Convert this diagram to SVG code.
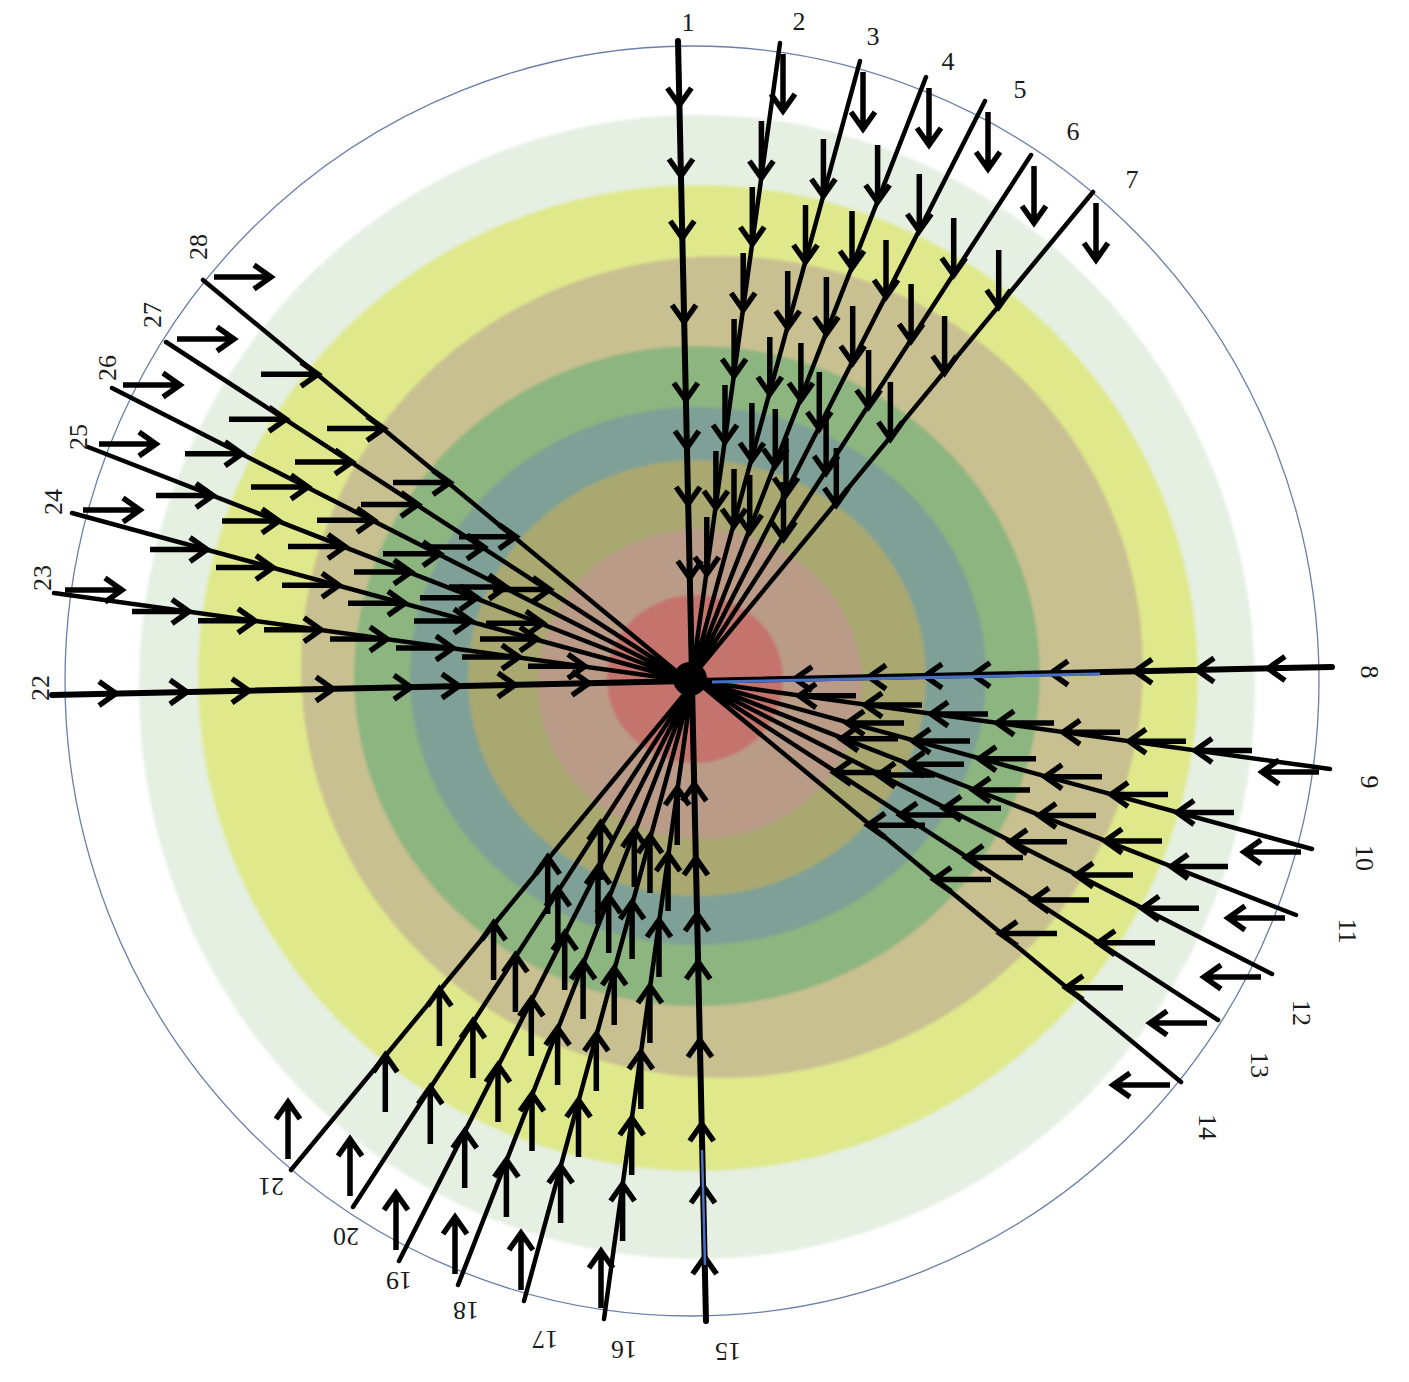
<svg xmlns="http://www.w3.org/2000/svg" width="1409" height="1382" viewBox="0 0 1409 1382">
<style>
.ln{stroke:#000;stroke-width:4.5;fill:none;stroke-linecap:round}
.ax{stroke:#000;stroke-width:6;fill:none;stroke-linecap:round}
.ar{stroke:#000;stroke-width:5.5;fill:none;stroke-linejoin:miter}
.lb{font-family:"Liberation Serif","Times New Roman",serif;font-size:26px;fill:#1a1a1a;text-anchor:middle}
</style>
<defs>
<filter id="soft" x="-5%" y="-5%" width="110%" height="110%"><feGaussianBlur stdDeviation="1.5"/></filter>
<path id="a" class="ar" d="M0,-57V-3M-12,-17L0,0L12,-17"/>
<path id="h" class="ar" d="M-12,-17L0,0L12,-17"/>
<g id="fan">
<path class="ax" d="M-14,-640L0,-4"/>
<path class="ln" d="M88,-638L0,-4M168,-620L0,-4M234,-604L0,-4M293,-580L0,-4M339,-526L0,-4M401,-489L0,-4"/>
<use href="#h" x="-12.6" y="-576"/>
<use href="#h" x="-11" y="-505"/>
<use href="#h" x="-9.7" y="-443"/>
<use href="#h" x="-7.9" y="-359"/>
<use href="#h" x="-6.2" y="-281"/>
<use href="#h" x="-5.1" y="-233"/>
<use href="#h" x="-3.9" y="-177"/>
<use href="#h" x="-2.3" y="-103"/>
<use href="#a" x="91" y="-570"/>
<use href="#a" x="69.4" y="-503"/>
<use href="#a" x="60.3" y="-437"/>
<use href="#a" x="51.2" y="-371"/>
<use href="#a" x="42.1" y="-305"/>
<use href="#a" x="33" y="-239"/>
<use href="#a" x="23.9" y="-173"/>
<use href="#a" x="14.8" y="-107"/>
<use href="#a" x="171" y="-552"/>
<use href="#a" x="131.4" y="-485"/>
<use href="#a" x="113.5" y="-419"/>
<use href="#a" x="95.7" y="-353"/>
<use href="#a" x="77.8" y="-287"/>
<use href="#a" x="59.9" y="-221"/>
<use href="#a" x="42" y="-155"/>
<use href="#a" x="237" y="-536"/>
<use href="#a" x="185.6" y="-479"/>
<use href="#a" x="160" y="-413"/>
<use href="#a" x="134.4" y="-347"/>
<use href="#a" x="108.9" y="-281"/>
<use href="#a" x="83.3" y="-215"/>
<use href="#a" x="57.7" y="-149"/>
<use href="#a" x="296" y="-512"/>
<use href="#a" x="227.3" y="-450"/>
<use href="#a" x="194" y="-384"/>
<use href="#a" x="160.7" y="-318"/>
<use href="#a" x="127.3" y="-252"/>
<use href="#a" x="94" y="-186"/>
<use href="#a" x="342" y="-458"/>
<use href="#a" x="261.7" y="-406"/>
<use href="#a" x="219.1" y="-340"/>
<use href="#a" x="176.6" y="-274"/>
<use href="#a" x="134.1" y="-208"/>
<use href="#a" x="91.5" y="-142"/>
<use href="#a" x="404" y="-421"/>
<use href="#a" x="306.7" y="-374"/>
<use href="#a" x="252.6" y="-308"/>
<use href="#a" x="198.4" y="-242"/>
<use href="#a" x="144.3" y="-176"/>
</g>
</defs>
<rect width="1409" height="1382" fill="#fff"/>
<g id="rings" filter="url(#soft)">
<ellipse cx="697" cy="687" rx="558" ry="572" fill="#e5efe2"/>
<ellipse cx="698" cy="678" rx="500" ry="493" fill="#dfe98b"/>
<ellipse cx="722" cy="667" rx="421" ry="411" fill="#c9c091"/>
<ellipse cx="697" cy="676" rx="343" ry="330" fill="#8db57f"/>
<ellipse cx="698" cy="676" rx="288" ry="269" fill="#7ea096"/>
<ellipse cx="697" cy="678" rx="229" ry="218" fill="#a8a870"/>
<ellipse cx="700" cy="684" rx="162" ry="155" fill="#b99b88"/>
<ellipse cx="695" cy="679" rx="88" ry="84" fill="#c5736d"/>
</g>
<ellipse id="boundary" cx="692" cy="681" rx="627" ry="635" fill="none" stroke="#6b7fa8" stroke-width="1.3"/>
<g id="connectors">
<use id="fan-top" href="#fan" transform="translate(692 681)"/>
<use id="fan-right" href="#fan" transform="translate(692 681) rotate(90)"/>
<use id="fan-bottom" href="#fan" transform="translate(692 681) rotate(180)"/>
<use id="fan-left" href="#fan" transform="translate(692 681) rotate(270)"/>
<path d="M712,682L1100,674" stroke="#4a70c4" stroke-width="3" fill="none"/>
<path d="M702,1150L705,1265" stroke="#4a70c4" stroke-width="2.5" fill="none"/>
<circle cx="690" cy="679" r="17" fill="#000"/>
</g>
<g id="labels">
<text class="lb" x="688" y="31">1</text>
<text class="lb" x="799" y="30">2</text>
<text class="lb" x="873" y="45">3</text>
<text class="lb" x="948" y="70">4</text>
<text class="lb" x="1020" y="98">5</text>
<text class="lb" x="1073" y="140">6</text>
<text class="lb" x="1132" y="188">7</text>
<text class="lb" transform="translate(1370 672) rotate(90)" dy="9">8</text>
<text class="lb" transform="translate(1370 782) rotate(90)" dy="9">9</text>
<text class="lb" transform="translate(1365 858) rotate(90)" dy="9">10</text>
<text class="lb" transform="translate(1348 931) rotate(90)" dy="9">11</text>
<text class="lb" transform="translate(1302 1013) rotate(90)" dy="9">12</text>
<text class="lb" transform="translate(1260 1065) rotate(90)" dy="9">13</text>
<text class="lb" transform="translate(1208 1127) rotate(90)" dy="9">14</text>
<text class="lb" transform="translate(728 1352) rotate(180)" dy="9">15</text>
<text class="lb" transform="translate(624 1350) rotate(180)" dy="9">16</text>
<text class="lb" transform="translate(545 1340) rotate(180)" dy="9">17</text>
<text class="lb" transform="translate(466 1311) rotate(180)" dy="9">18</text>
<text class="lb" transform="translate(399 1281) rotate(180)" dy="9">19</text>
<text class="lb" transform="translate(346 1237) rotate(180)" dy="9">20</text>
<text class="lb" transform="translate(271 1187) rotate(180)" dy="9">21</text>
<text class="lb" transform="translate(40 688) rotate(270)" dy="9">22</text>
<text class="lb" transform="translate(42 578) rotate(270)" dy="9">23</text>
<text class="lb" transform="translate(53 502) rotate(270)" dy="9">24</text>
<text class="lb" transform="translate(78 437) rotate(270)" dy="9">25</text>
<text class="lb" transform="translate(107 368) rotate(270)" dy="9">26</text>
<text class="lb" transform="translate(152 315) rotate(270)" dy="9">27</text>
<text class="lb" transform="translate(198 247) rotate(270)" dy="9">28</text>
</g>
</svg>
